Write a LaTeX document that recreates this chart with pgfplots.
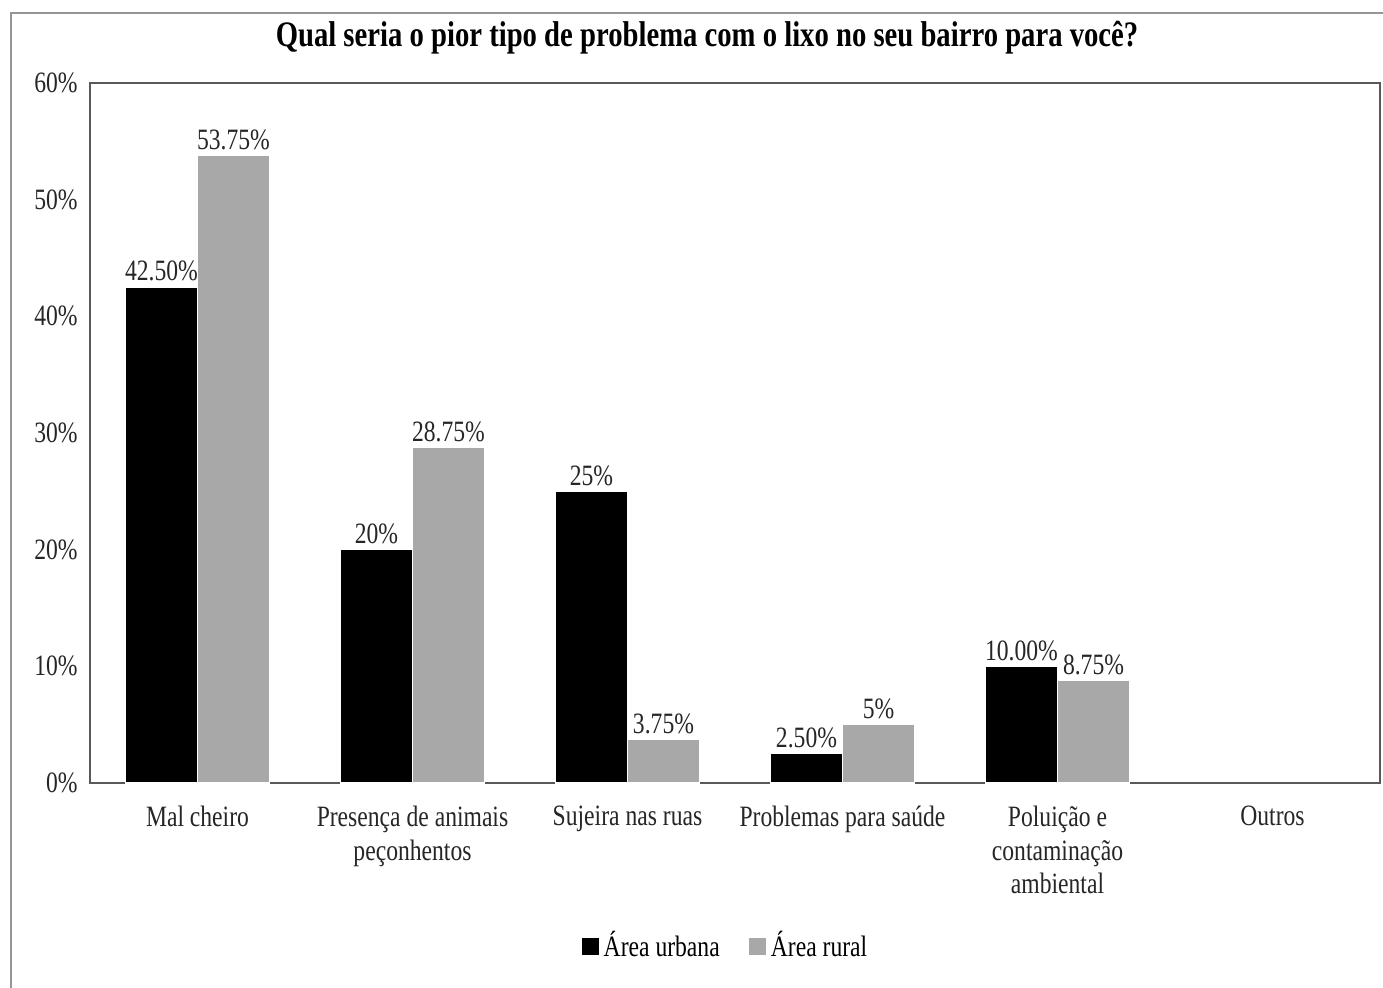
\documentclass[border=0pt]{standalone}
\usepackage{fontspec}
\setmainfont{Liberation Serif}[FakeStretch=0.8]
\usepackage{pgfplots}
\pgfplotsset{compat=1.18}
\usepackage{pgfplotstable}
\definecolor{rur}{RGB}{168,168,168}
\definecolor{frm}{RGB}{150,150,150}
\pgfplotstableread{
x y lab
0 42.5 42.50
1 20 20
2 25 25
3 2.5 2.50
4 10 10.00
}\urb
\pgfplotstableread{
x y lab
0 53.75 53.75
1 28.75 28.75
2 3.75 3.75
3 5 5
4 8.75 8.75
}\rur
\newcommand{\ft}{\fontsize{8.4}{9.5}\selectfont}
\begin{document}
\begin{tikzpicture}
\useasboundingbox (0,0) rectangle (13.83,9.87);
\fill[white] (0,0) rectangle (13.83,9.87);
\draw[frm, line width=0.2mm] (0.11,-1) rectangle (15,9.74);
\node[font=\fontsize{10.2}{12}\selectfont\bfseries] at (7.07,9.49) {Qual seria o pior tipo de problema com o lixo no seu bairro para você?};
\begin{axis}[
  at={(0.90cm,2.04cm)}, anchor=south west,
  width=12.90cm, height=7.00cm, scale only axis,
  ybar=0pt, bar width=0.72cm,
  xmin=-0.5, xmax=5.5, ymin=0, ymax=60,
  axis line style={draw=black!65, line width=0.25mm},
  xtick={0,1,2,3,4,5},
  xticklabels={Mal cheiro,{Presença de animais\\peçonhentos},Sujeira nas ruas,Problemas para saúde,{Poluição e\\contaminação\\ambiental},Outros},
  ytick={0,10,20,30,40,50,60},
  yticklabels={0\%,10\%,20\%,30\%,40\%,50\%,60\%},
  major tick length=0pt,
  tick label style={font=\ft, text=black!85},
  xticklabel style={align=center, yshift=-1.1mm},
  nodes near coords={\pgfplotspointmeta\%},
  point meta=explicit symbolic,
  every node near coord/.append style={font=\ft, text=black!85, inner sep=1.5pt},
  legend style={at={(0.493,-0.234)}, anchor=center, draw=none, fill=none, font=\ft, legend columns=2,
    /tikz/every even column/.append style={column sep=0.25cm},
    nodes={inner xsep=1pt}},
  legend image code/.code={\fill[#1] (0cm,-0.09cm) rectangle (0.18cm,0.09cm);},
]
\addplot[fill=black, draw=white, line width=0.3pt] table[x=x,y=y,meta=lab] {\urb};
\addplot[fill=rur, draw=white, line width=0.3pt] table[x=x,y=y,meta=lab] {\rur};
\legend{Área urbana,Área rural}
\end{axis}
\end{tikzpicture}
\end{document}
